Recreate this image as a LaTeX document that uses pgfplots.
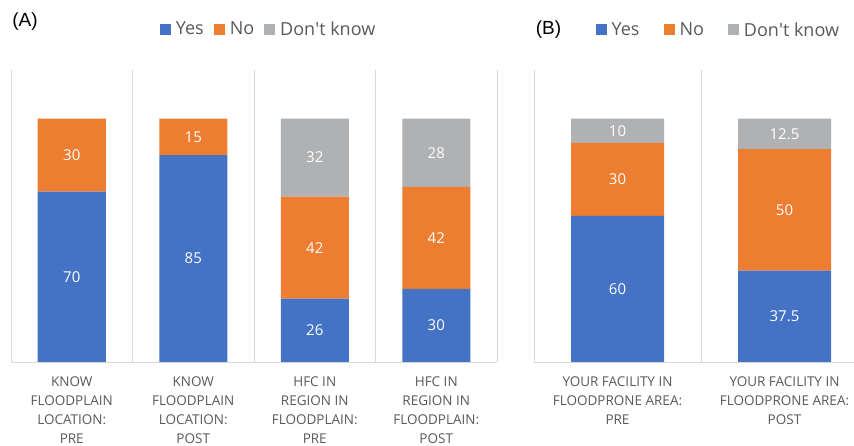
\documentclass[border=0pt]{standalone}
\usepackage{pgfplots}
\pgfplotsset{compat=1.18}
\usepackage{fontspec}
\setmainfont{Open Sans}
\newfontfamily\arialf{Liberation Sans}
\definecolor{yesblue}{HTML}{4472C4}
\definecolor{noorange}{HTML}{ED7D31}
\definecolor{dkgray}{HTML}{B0B1B3}
\definecolor{labelgray}{HTML}{595959}
\definecolor{gridgray}{HTML}{D9D9D9}
\pgfplotsset{
  mybase/.style={
    scale only axis,
    height=292bp,
    ymin=0, ymax=120,
    ybar stacked,
    axis x line=bottom,
    axis y line=none,
    x axis line style={-, draw=gridgray, line width=1bp},
    ytick=\empty,
    xtick=data,
    major tick length=0pt,
    minor tick length=0pt,
    xminorgrids=true,
    minor grid style={draw=gridgray, line width=1bp},
    xticklabel style={align=center, text=labelgray, inner sep=0pt, anchor=north, yshift=-15bp,
      font=\fontsize{13.5bp}{19bp}\selectfont},
    /pgf/number format/assume math mode=true,
    nodes near coords={\pgfmathfloatifflags{\pgfplotspointmeta}{0}{}{\pgfmathprintnumber{\pgfplotspointmeta}}},
    every node near coord/.append style={anchor=center,
      text=white, font=\fontsize{15bp}{18bp}\selectfont},
    legend image code/.code={\fill[##1] (0bp,-5.5bp) rectangle (11bp,5.5bp);},
    legend style={draw=none, fill=none, inner sep=0pt,
      font=\fontsize{18bp}{20bp}\selectfont, text=labelgray,
      legend columns=-1, legend cell align=left,
      nodes={inner sep=0pt}},
  },
}
\begin{document}
\begin{tikzpicture}
\useasboundingbox (0,0) rectangle (854bp,446bp);
\clip (0,0) rectangle (854bp,446bp);
\begin{axis}[mybase,
  at={(11bp,84bp)}, anchor=south west,
  width=486bp,
  xmin=-0.5, xmax=3.5,
  bar width=68bp,
  minor xtick={-0.5,0.5,1.5,2.5,3.5},
  xticklabels={{KNOW\\FLOODPLAIN\\LOCATION:\\PRE},{KNOW\\FLOODPLAIN\\LOCATION:\\POST},{HFC IN\\REGION IN\\FLOODPLAIN:\\PRE},{HFC IN\\REGION IN\\FLOODPLAIN:\\POST}},
  legend style={at={(0.528,1.140)}, anchor=center,
    /tikz/every odd column/.style={column sep=5bp},
    /tikz/every even column/.style={column sep=10bp}},
]
\addplot[fill=yesblue, draw=none] coordinates {(0,70) (1,85) (2,26) (3,30)};
\addplot[fill=noorange, draw=none] coordinates {(0,30) (1,15) (2,42) (3,42)};
\addplot[fill=dkgray, draw=none] coordinates {(0,0) (1,0) (2,32) (3,28)};
\legend{Yes,No,Don\textquotesingle t know}
\end{axis}
\begin{axis}[mybase,
  at={(534bp,84bp)}, anchor=south west,
  width=334bp,
  xmin=-0.5, xmax=1.5,
  bar width=93bp,
  minor xtick={-0.5,0.5,1.5},
  xticklabels={{YOUR FACILITY IN\\FLOODPRONE AREA:\\PRE},{YOUR FACILITY IN\\FLOODPRONE AREA:\\POST}},
  legend style={at={(0.549,1.137)}, anchor=center,
    /tikz/every odd column/.style={column sep=5bp},
    /tikz/every even column/.style={column sep=24bp}},
]
\addplot[fill=yesblue, draw=none] coordinates {(0,60) (1,37.5)};
\addplot[fill=noorange, draw=none] coordinates {(0,30) (1,50)};
\addplot[fill=dkgray, draw=none] coordinates {(0,10) (1,12.5)};
\legend{Yes,No,Don\textquotesingle t know}
\end{axis}
\node[font=\arialf\fontsize{19bp}{21bp}\selectfont, text=black] at (25bp,424bp) {(A)};
\node[font=\arialf\fontsize{19bp}{21bp}\selectfont, text=black] at (548.5bp,416bp) {(B)};
\end{tikzpicture}
\end{document}
